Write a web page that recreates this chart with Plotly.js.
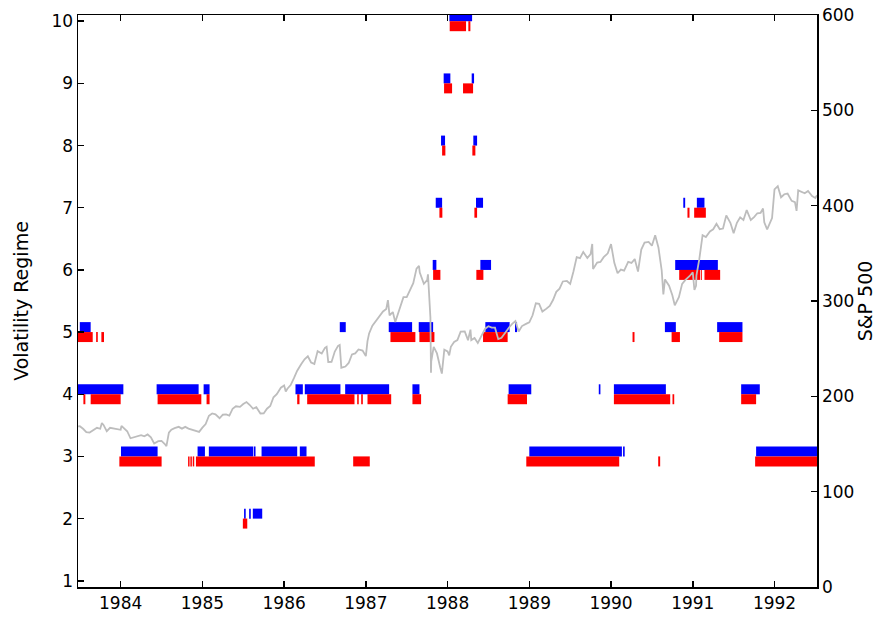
<!DOCTYPE html>
<html>
<head>
<meta charset="utf-8">
<script src="https://cdn.plot.ly/plotly-3.0.1.min.js"></script>
<style>
  html, body { margin: 0; padding: 0; background: #fff; }
  #chart { width: 896px; height: 619px; }
</style>
</head>
<body>
<div id="chart"></div>
<script>
// Regime spells, in decimal years: row = volatility regime, from/to = spell bounds.
// Blue: first regime estimate.
const blueRow  = [5, 5, 5, 5, 5, 5, 5, 5,
                  4, 4, 4, 4, 4, 4, 4, 4, 4, 4, 4,
                  3, 3, 3, 3, 3, 3, 3, 3, 3,
                  2, 2, 2,
                  6, 6, 6,
                  7, 7, 7, 7,
                  8, 8,
                  9, 9,
                  10];
const blueFrom = [1983.50, 1986.681, 1987.280, 1987.647, 1988.462, 1988.825, 1990.659, 1991.298,
                  1983.47, 1984.440, 1985.015, 1986.139, 1986.253, 1986.747, 1987.570, 1988.747, 1989.850, 1990.035, 1991.592,
                  1984.004, 1984.941, 1985.079, 1985.630, 1985.724, 1986.192, 1989.000, 1990.147, 1991.775,
                  1985.510, 1985.572, 1985.617,
                  1987.818, 1988.401, 1990.785,
                  1987.855, 1988.348, 1990.884, 1991.050,
                  1987.920, 1988.315,
                  1987.952, 1988.295,
                  1988.022];
const blueTo   = [1983.633, 1986.754, 1987.566, 1987.823, 1988.759, 1988.850, 1990.793, 1991.608,
                  1984.033, 1984.954, 1985.088, 1986.229, 1986.689, 1987.285, 1987.656, 1989.024, 1989.870, 1990.671, 1991.820,
                  1984.452, 1985.031, 1985.622, 1985.650, 1986.160, 1986.274, 1990.133, 1990.167, 1992.53,
                  1985.530, 1985.592, 1985.732,
                  1987.863, 1988.532, 1991.307,
                  1987.933, 1988.434, 1990.907, 1991.143,
                  1987.969, 1988.361,
                  1988.034, 1988.324,
                  1988.300];

// Red: second regime estimate.
const redRow  = [5, 5, 5, 5, 5, 5, 5, 5, 5,
                 4, 4, 4, 4, 4, 4, 4, 4, 4, 4, 4, 4, 4, 4,
                 3, 3, 3, 3, 3, 3, 3, 3, 3,
                 2,
                 6, 6, 6, 6, 6,
                 7, 7, 7, 7,
                 8, 8,
                 9, 9,
                 10, 10];
const redFrom = [1983.47, 1983.700, 1983.764, 1987.301, 1987.655, 1988.434, 1990.263, 1990.741, 1991.323,
                 1983.544, 1983.633, 1984.452, 1985.051, 1986.160, 1986.282, 1986.894, 1986.943, 1987.020, 1987.570, 1988.735, 1990.035, 1990.752, 1991.592,
                 1983.984, 1984.825, 1984.853, 1984.882, 1984.921, 1986.845, 1988.963, 1990.577, 1991.763,
                 1985.495,
                 1987.823, 1988.352, 1990.834, 1991.099, 1991.143,
                 1987.900, 1988.328, 1990.935, 1991.017,
                 1987.933, 1988.303,
                 1987.957, 1988.189,
                 1988.026, 1988.254];
const redTo   = [1983.658, 1983.720, 1983.796, 1987.606, 1987.839, 1988.735, 1990.287, 1990.843, 1991.608,
                 1983.568, 1984.000, 1984.987, 1985.088, 1986.188, 1986.861, 1986.913, 1986.963, 1987.310, 1987.676, 1988.972, 1990.724, 1990.773, 1991.775,
                 1984.501, 1984.843, 1984.871, 1984.900, 1986.375, 1987.048, 1990.100, 1990.601, 1992.53,
                 1985.549,
                 1987.912, 1988.438, 1991.090, 1991.111, 1991.335,
                 1987.936, 1988.361, 1990.960, 1991.160,
                 1987.973, 1988.340,
                 1988.055, 1988.312,
                 1988.226, 1988.279];

// S&P 500 index level (decimal year, close).
const spYear = [1983.48, 1983.50, 1983.54, 1983.58, 1983.62, 1983.66, 1983.71, 1983.75, 1983.77, 1983.79, 1983.83, 1983.87, 1983.91, 1983.95,
  1984.00, 1984.01, 1984.04, 1984.08, 1984.12, 1984.16, 1984.21, 1984.25, 1984.29, 1984.33, 1984.37, 1984.41, 1984.46, 1984.50, 1984.54, 1984.56, 1984.59, 1984.62, 1984.66, 1984.71, 1984.75, 1984.79, 1984.83, 1984.87, 1984.91, 1984.96,
  1985.00, 1985.04, 1985.08, 1985.12, 1985.16, 1985.21, 1985.25, 1985.29, 1985.33, 1985.37, 1985.41, 1985.46, 1985.50, 1985.54, 1985.58, 1985.62, 1985.66, 1985.71, 1985.75, 1985.79, 1985.83, 1985.87, 1985.91, 1985.96,
  1986.00, 1986.02, 1986.04, 1986.08, 1986.12, 1986.16, 1986.21, 1986.25, 1986.29, 1986.33, 1986.37, 1986.41, 1986.46, 1986.50, 1986.52, 1986.54, 1986.58, 1986.62, 1986.66, 1986.68, 1986.70, 1986.75, 1986.79, 1986.83, 1986.87, 1986.91, 1986.96,
  1987.00, 1987.02, 1987.04, 1987.08, 1987.12, 1987.16, 1987.21, 1987.25, 1987.27, 1987.29, 1987.33, 1987.36, 1987.41, 1987.46, 1987.50, 1987.54, 1987.58, 1987.62, 1987.65, 1987.66, 1987.71, 1987.75, 1987.76, 1987.79, 1987.797, 1987.80, 1987.83, 1987.87, 1987.91, 1987.93, 1987.96,
  1988.00, 1988.02, 1988.04, 1988.08, 1988.12, 1988.16, 1988.21, 1988.25, 1988.28, 1988.29, 1988.33, 1988.37, 1988.41, 1988.46, 1988.50, 1988.54, 1988.58, 1988.62, 1988.66, 1988.71, 1988.75, 1988.79, 1988.83, 1988.87, 1988.91, 1988.96,
  1989.00, 1989.04, 1989.08, 1989.12, 1989.16, 1989.21, 1989.25, 1989.29, 1989.33, 1989.37, 1989.41, 1989.46, 1989.50, 1989.54, 1989.58, 1989.62, 1989.66, 1989.71, 1989.75, 1989.77, 1989.78, 1989.83, 1989.87, 1989.91, 1989.96,
  1990.00, 1990.04, 1990.08, 1990.12, 1990.16, 1990.21, 1990.25, 1990.29, 1990.33, 1990.37, 1990.41, 1990.46, 1990.50, 1990.54, 1990.58, 1990.62, 1990.64, 1990.66, 1990.71, 1990.75, 1990.78, 1990.83, 1990.87, 1990.91, 1990.96,
  1991.00, 1991.02, 1991.04, 1991.045, 1991.08, 1991.12, 1991.16, 1991.21, 1991.25, 1991.29, 1991.33, 1991.37, 1991.41, 1991.46, 1991.50, 1991.54, 1991.58, 1991.62, 1991.66, 1991.71, 1991.75, 1991.79, 1991.83, 1991.86, 1991.875, 1991.91, 1991.96, 1991.97,
  1992.00, 1992.04, 1992.08, 1992.12, 1992.16, 1992.21, 1992.25, 1992.27, 1992.29, 1992.33, 1992.37, 1992.41, 1992.46, 1992.50, 1992.52];
const spValue = [168.5, 168.6, 166, 162.5, 162, 164.4, 167, 166, 172, 170, 163.4, 167, 166.4, 165,
  164.9, 169, 167, 163.4, 156, 157, 159, 159.2, 158, 160, 157, 150.5, 153, 153.2, 150, 147.8, 162, 165, 166.7, 168, 166.1, 168, 166.1, 165, 163.6, 162.7,
  167.2, 171, 179.6, 182, 181.2, 177, 180.7, 181, 179.8, 187, 189.6, 189, 191.9, 194, 190.9, 187, 188.6, 182, 182.1, 187, 189.8, 199, 202.2, 209,
  211.3, 205, 208, 211.8, 219, 226.9, 234, 238.9, 242, 235.5, 234, 247.4, 245, 250.8, 252, 236, 236.1, 247, 252.9, 253.8, 230, 231.3, 235, 243.9, 245, 249.2, 248,
  242.2, 258, 266, 274.1, 279, 284.2, 289, 291.7, 301, 285, 288.4, 278, 290.1, 304, 304, 312, 318.7, 334, 336.8, 329.8, 318, 321.8, 328, 282.7, 224.8, 236.8, 251.8, 245, 230.3, 223.9, 249,
  247.1, 243, 252, 257, 259, 267.8, 268, 258.9, 270, 259, 261.3, 256, 262.2, 271, 273.5, 272, 272, 260, 261.5, 268, 271.9, 276, 278.9, 268, 273.7, 276,
  277.7, 285, 297.5, 297, 288.9, 292, 294.9, 301, 309.6, 313, 320.5, 321, 317.9, 331, 346.1, 345, 351.5, 345, 349.2, 359.8, 333.6, 340.4, 341, 346, 350,
  359.7, 340, 329.1, 333, 331.9, 341, 339.9, 344, 330.8, 354, 361.2, 362, 358, 368.9, 356.2, 332, 307, 322.6, 316, 306, 295.5, 304, 318, 322.2, 326,
  330.2, 311.5, 316, 327, 343.9, 369, 367.1, 373, 375.2, 381, 375.3, 376, 389.8, 382, 371.2, 382, 387.8, 385, 395.4, 385, 387.9, 392, 392.5, 397, 382.6, 375.2, 384, 387,
  417.1, 420.4, 408.8, 412, 412.7, 405, 403.7, 394.5, 416, 414.9, 413, 415.4, 410, 408, 411];

// Vertical offset of each estimate from its regime row, so both rows stay readable.
const BLUE_SHIFT = 0.08;
const RED_SHIFT = -0.08;

function spells(rows, from, to, shift) {
  const x = [], y = [];
  for (let i = 0; i < rows.length; i++) {
    x.push(from[i], to[i], null);
    y.push(rows[i] + shift, rows[i] + shift, null);
  }
  return { x, y };
}

const b = spells(blueRow, blueFrom, blueTo, BLUE_SHIFT);
const r = spells(redRow, redFrom, redTo, RED_SHIFT);

const traces = [
  { type: 'scatter', mode: 'lines', x: b.x, y: b.y, connectgaps: false,
    line: { color: '#0000ff', width: 10 }, hoverinfo: 'skip', yaxis: 'y' },
  { type: 'scatter', mode: 'lines', x: r.x, y: r.y, connectgaps: false,
    line: { color: '#ff0000', width: 10 }, hoverinfo: 'skip', yaxis: 'y' },
  { type: 'scatter', mode: 'lines', x: spYear, y: spValue,
    line: { color: '#bdbdbd', width: 1.8 }, yaxis: 'y2' }
];

const tickFont = { family: 'DejaVu Sans', size: 17, color: '#000' };
const titleFont = { family: 'DejaVu Sans', size: 19, color: '#000' };
const axisCommon = {
  ticks: 'inside', ticklen: 6, tickwidth: 1.5, tickcolor: '#000',
  showline: true, linecolor: '#000', linewidth: 1.5,
  showgrid: false, zeroline: false, tickfont: tickFont
};

const layout = {
  width: 896, height: 619,
  margin: { l: 78, r: 79, t: 15, b: 32, pad: 0 },
  paper_bgcolor: '#fff', plot_bgcolor: '#fff',
  showlegend: false,
  font: tickFont,
  xaxis: Object.assign({}, axisCommon, {
    range: [1983.478, 1992.52], tick0: 1984, dtick: 1, mirror: 'ticks'
  }),
  yaxis: Object.assign({}, axisCommon, {
    range: [0.9, 10.1], tick0: 1, dtick: 1,
    title: { text: 'Volatility Regime', font: titleFont, standoff: 18 }
  }),
  yaxis2: Object.assign({}, axisCommon, {
    overlaying: 'y', side: 'right', range: [0, 600], tick0: 0, dtick: 100,
    title: { text: 'S&P 500', font: titleFont, standoff: 0 }
  })
};

Plotly.newPlot('chart', traces, layout, { staticPlot: true, displayModeBar: false });
</script>
</body>
</html>
